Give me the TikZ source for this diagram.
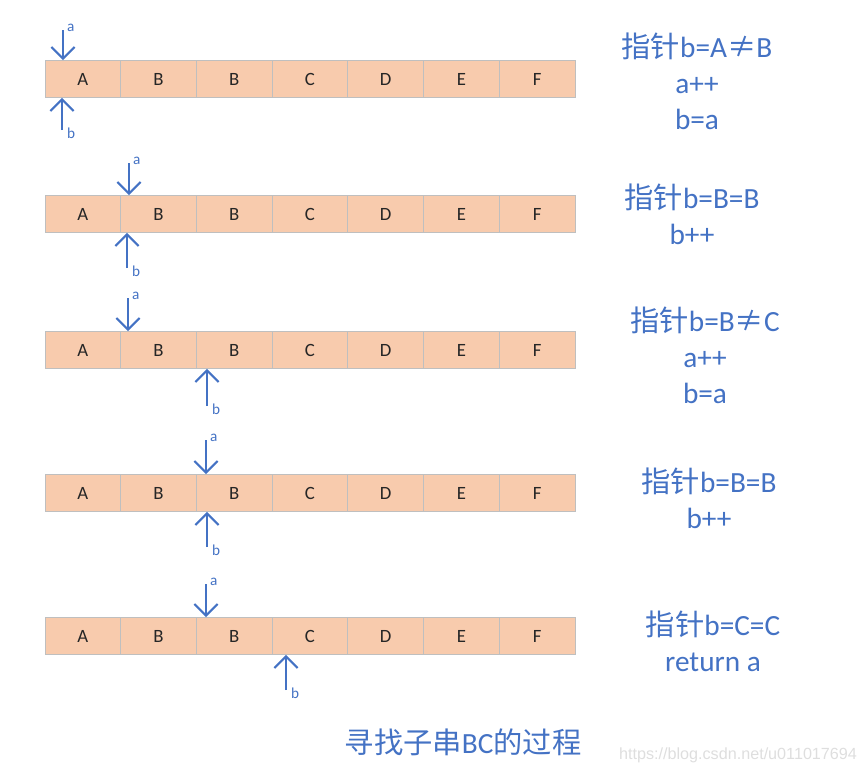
\documentclass[tikz,border=0pt]{standalone}
\usepackage{fontspec}
\setmainfont{Carlito}
\newfontfamily\cjk{Noto Sans CJK SC}
\newfontfamily\wmfont{Liberation Sans}
\usetikzlibrary{arrows.meta}

\definecolor{ptrblue}{HTML}{4472C4}
\definecolor{cellfill}{HTML}{F8CBAD}
\definecolor{cellline}{HTML}{BFBFBF}

\tikzset{
	cellbox/.style = {draw = cellline, line width = 0.6pt, fill = cellfill, minimum width = 2.271cm, minimum height = 1.11cm, inner sep = 0pt, text = black!85, font = \fontsize{16}{19}\selectfont},
	pointer/.style = {draw = ptrblue, line width = 1.8pt, -{Straight Barb[length = 3.5mm, width = 7mm]}},
	ptrlabel/.style = {text = ptrblue, inner sep = 0pt, anchor = west, font = \fontsize{13}{15}\selectfont},
	steptext/.style = {text = ptrblue, align = center, font = \fontsize{25}{30.6}\selectfont},
}

\begin{document}
\begin{tikzpicture}[x = 0.03cm, y = -0.03cm]
	\useasboundingbox (0,0) rectangle (865,774);

	\def\xMIN{45};
	\def\cellW{75.71};

	% the string, once per step
	\foreach \r/\y in {1/79, 2/214, 3/350, 4/493, 5/636} {
		\foreach \t [count = \i] in {A,B,B,C,D,E,F} {
			\node [cellbox] (r\r c\i) at ({\xMIN + (\i - 0.5)*\cellW},\y) {\t};
		}
	}

	% pointers a (above) and b (below)
	\foreach \r/\ax/\at/\bx/\bb in {1/63/30/62/130, 2/129/163/127/268, 3/128/298/207/406, 4/206/440/207/547, 5/206/584/286/690} {
		\coordinate (a\r) at (\ax,\at);
		\coordinate (b\r) at (\bx,\bb);
		\draw [pointer] (a\r) -- (a\r |- r\r c1.north);
		\draw [pointer] (b\r) -- (b\r |- r\r c1.south);
		\node [ptrlabel] (la\r) at ([shift = {(4,-2)}] a\r) {a};
		\node [ptrlabel] (lb\r) at ([shift = {(5,3)}] b\r) {b};
	}

	% what happens at each step
	\node [steptext] (s1) at (697,81) {{\cjk 指针}b=A{\cjk ≠}B\\a++\\b=a};
	\node [steptext] (s2) at (692,214) {{\cjk 指针}b=B=B\\b++};
	\node [steptext] (s3) at (705,355) {{\cjk 指针}b=B{\cjk ≠}C\\a++\\b=a};
	\node [steptext] (s4) at (709,498) {{\cjk 指针}b=B=B\\b++};
	\node [steptext] (s5) at (713,641) {{\cjk 指针}b=C=C\\return a};

	\node [text = ptrblue, font = \fontsize{25}{30}\selectfont] (title) at (463,742) {{\cjk 寻找子串}BC{\cjk 的过程}};
	\node [text = black!13, font = \wmfont\fontsize{13.8}{16}\selectfont] (mark) at (738,755) {https://blog.csdn.net/u011017694};

\end{tikzpicture}
\end{document}
